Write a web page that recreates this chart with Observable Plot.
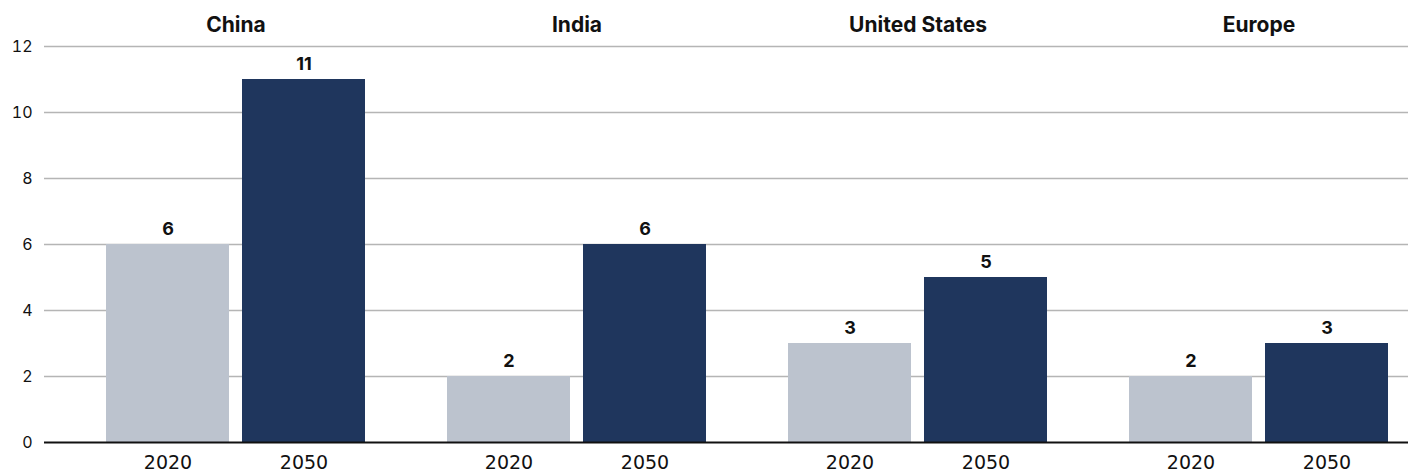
<!DOCTYPE html>
<html><head><meta charset="utf-8">
<script src="https://cdn.jsdelivr.net/npm/d3@7"></script>
<script src="https://cdn.jsdelivr.net/npm/@observablehq/plot@0.6"></script>
<style>body{margin:0;background:#fff}</style>
</head><body><div id="chart"></div>
<script>
const regions = ["China", "India", "United States", "Europe"];
const years = ["2020", "2050"];
const values2020 = [6, 2, 3, 2];
const values2050 = [11, 6, 5, 3];
const yTicks = [0, 2, 4, 6, 8, 10, 12];
const colors = ["#bcc3ce", "#1f365d"];

const data = regions.flatMap((r, i) => [
  {region: r, year: years[0], value: values2020[i]},
  {region: r, year: years[1], value: values2050[i]}
]);

const chart = Plot.plot({
  width: 1416, height: 474,
  marginLeft: 44, marginRight: 8, marginTop: 46, marginBottom: 32,
  style: {fontFamily: "Inter, Roboto, sans-serif", background: "#fff", color: "#111"},
  fx: {domain: regions, padding: 0, axis: null},
  x: {domain: years, paddingInner: 0.0956, paddingOuter: 0.3014, align: 0.756, axis: null},
  y: {domain: [0, 12], axis: null},
  color: {domain: years, range: colors},
  marks: [
    Plot.gridY(yTicks.filter(d => d > 0), {stroke: "#b5b5b5", strokeOpacity: 1, strokeWidth: 1.5}),
    Plot.barY(data, {fx: "region", x: "year", y: "value", fill: "year"}),
    Plot.ruleY([0], {stroke: "#111", strokeWidth: 2}),
    Plot.text(data, {fx: "region", x: "year", y: "value", text: d => String(d.value), dy: -15, fontWeight: 700, fontSize: 18, fill: "#111"}),
    Plot.axisY(yTicks, {anchor: "left", tickSize: 0, tickPadding: 12, fontSize: 16, label: null}),
    Plot.axisX({anchor: "bottom", tickSize: 0, tickPadding: 13, fontSize: 19, fontFamily: "DejaVu Sans", label: null}),
    Plot.axisFx({anchor: "top", tickSize: 0, tickPadding: 15, dx: 21, fontWeight: 700, fontSize: 21, label: null})
  ]
});
document.getElementById("chart").append(chart);
</script>
</body></html>
